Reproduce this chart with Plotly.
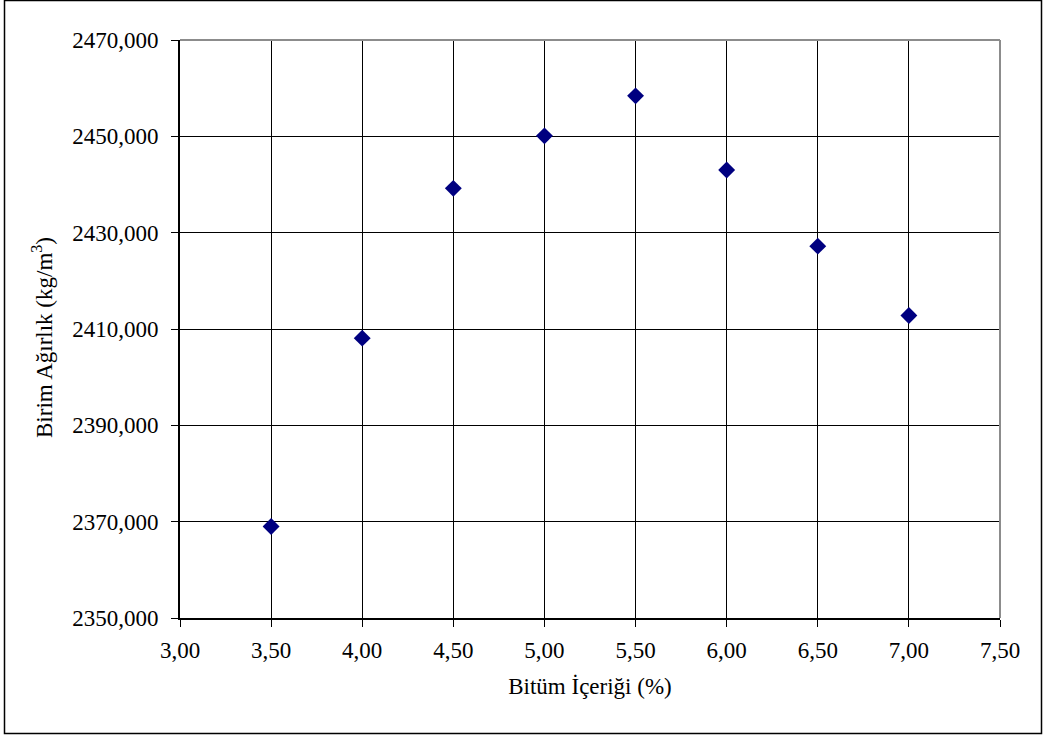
import plotly.graph_objects as go

bitum = [3.5, 4.0, 4.5, 5.0, 5.5, 6.0, 6.5, 7.0]
birim_agirlik = [2369.0, 2408.1, 2439.2, 2450.1, 2458.4, 2443.0, 2427.2, 2412.8]

x_ticks = [3.0, 3.5, 4.0, 4.5, 5.0, 5.5, 6.0, 6.5, 7.0, 7.5]
y_ticks = [2350, 2370, 2390, 2410, 2430, 2450, 2470]

x_title = "Bitüm İçeriği (%)"
y_title = "Birim Ağırlık (kg/m<sup>3</sup>)"

W, H = 1044, 735
ML, MR, MT, MB = 180, 44, 40, 117
PW, PH = W - ML - MR, H - MT - MB

def px_x(p):
    return (p - ML) / PW

def px_y(p):
    return (H - MB - p) / PH

font_family = "Times New Roman, Liberation Serif, serif"

fig = go.Figure()
fig.add_trace(go.Scatter(
    x=bitum, y=birim_agirlik, mode="markers",
    marker=dict(symbol="diamond", size=13, color="#000080",
                line=dict(width=0)),
    showlegend=False, cliponaxis=False,
))

fig.update_layout(
    width=W, height=H,
    margin=dict(l=ML, r=MR, t=MT, b=MB),
    paper_bgcolor="white", plot_bgcolor="white",
    separators=",.",
    font=dict(family=font_family, size=23, color="black"),
    xaxis=dict(
        range=[3.0, 7.5], tickvals=x_ticks, tickformat=".2f",
        showgrid=True, gridcolor="black", gridwidth=1,
        showline=True, linecolor="black", linewidth=2,
        ticks="outside", ticklen=7, tickcolor="black", tickwidth=1,
        ticklabelstandoff=3,
        zeroline=False,
        title=dict(text=x_title, standoff=16,
                   font=dict(family=font_family, size=23)),
        tickfont=dict(family=font_family, size=23),
    ),
    yaxis=dict(
        range=[2350, 2470], tickvals=y_ticks, tickformat=".3f",
        showgrid=True, gridcolor="black", gridwidth=1,
        showline=True, linecolor="black", linewidth=2,
        ticks="outside", ticklen=7, tickcolor="black", tickwidth=1,
        ticklabelstandoff=8,
        zeroline=False,
        tickfont=dict(family=font_family, size=23),
    ),
    annotations=[
        dict(text=y_title, xref="paper", yref="paper",
             x=px_x(42), y=px_y(338), xanchor="center", yanchor="middle",
             textangle=-90, showarrow=False,
             font=dict(family=font_family, size=23, color="black")),
    ],
    shapes=[
        dict(type="line", xref="paper", yref="paper", x0=0, x1=1, y0=1, y1=1,
             line=dict(color="#8c8c8c", width=2), layer="above"),
        dict(type="line", xref="paper", yref="paper", x0=1, x1=1, y0=0, y1=1,
             line=dict(color="#8c8c8c", width=2), layer="above"),
        dict(type="rect", xref="paper", yref="paper",
             x0=px_x(4.5), x1=px_x(1041.5), y0=px_y(733.5), y1=px_y(0.5),
             line=dict(color="black", width=1.5), layer="above"),
    ],
)

fig.write_html("out.html")
